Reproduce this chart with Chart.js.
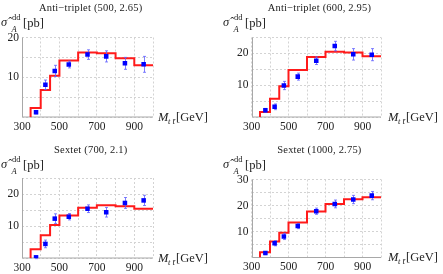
<!DOCTYPE html>
<html>
<head>
<meta charset="utf-8">
<script src="https://cdn.jsdelivr.net/npm/chart.js@4.4.1/dist/chart.umd.min.js"></script>
<style>
  html, body { margin:0; padding:0; background:#fff; }
  body { width:443px; height:274px; position:relative; overflow:hidden; font-family:"Liberation Serif","DejaVu Serif",serif; color:#222; }
  .panel { position:absolute; width:221px; height:137px; }
  .panel canvas { position:absolute; left:0; top:0; }
  .t { position:absolute; white-space:nowrap; line-height:1; }
  .title { font-size:10.5px; letter-spacing:0.2px; }
  .big { font-size:12.5px; }
  .sm { font-size:8.5px; }
</style>
</head>
<body>
<script>
// ---------- data ----------
const binEdges = [346, 400, 450, 500, 600, 700, 800, 900, 1000];
const binCenters = [375, 425, 475, 550, 650, 750, 850, 950];
const xTickLabels = [300, 500, 700, 900];

const titles = ["Anti\u2212triplet (500, 2.65)", "Anti\u2212triplet (600, 2.95)", "Sextet (700, 2.1)", "Sextet (1000, 2.75)"];

const theoryAT500 = [2.25, 6.8, 10.4, 14.2, 16.25, 16.05, 14.75, 13.0];
const dataAT500   = [1.2, 8.1, 11.6, 13.2, 15.7, 15.25, 13.5, 13.25];
const errAT500    = [0.4, 1.2, 1.4, 0.85, 1.2, 1.4, 1.5, 2.0];

const theoryAT600 = [1.6, 5.7, 9.7, 14.8, 18.9, 20.5, 20.3, 19.1];
const dataAT600   = [2.1, 3.2, 9.9, 12.7, 17.7, 22.3, 19.7, 19.6];
const errAT600    = [0.6, 0.9, 1.3, 1.1, 1.2, 1.5, 1.8, 1.9];

const theoryS700 = [2.7, 7.1, 10.3, 13.3, 15.7, 16.5, 16.2, 15.4];
const dataS700   = [0.2, 4.4, 12.3, 12.9, 15.4, 14.3, 17.2, 18.0];
const errS700    = [0.4, 1.2, 1.5, 1.0, 1.2, 1.5, 1.7, 1.6];

const theoryS1000 = [2.05, 6.15, 9.5, 13.5, 17.7, 20.6, 22.4, 23.2];
const dataS1000   = [1.7, 5.5, 8.1, 12.1, 17.8, 20.6, 22.3, 23.8];
const errS1000    = [0.6, 1.0, 1.2, 1.0, 1.2, 1.5, 1.6, 1.6];

const yMaxes = [20, 25, 25, 30];

// ---------- layout ----------
const panels = [
  {left:0,   top:0,   area:{l:22, r:153, t:37.5, b:117}, theory:theoryAT500, data:dataAT500, err:errAT500, ymax:yMaxes[0], title:titles[0], xl:158, xly:111, yly:0},
  {left:222, top:0,   area:{l:29.5, r:159, t:37.5, b:117}, theory:theoryAT600, data:dataAT600, err:errAT600, ymax:yMaxes[1], title:titles[1], xl:166, xly:111, yly:0},
  {left:0,   top:137, area:{l:22, r:153, t:41, b:121}, theory:theoryS700, data:dataS700, err:errS700, ymax:yMaxes[2], title:titles[2], xl:158, xly:115, yly:5},
  {left:222, top:137, area:{l:29.5, r:159, t:42.5, b:120.5}, theory:theoryS1000, data:dataS1000, err:errS1000, ymax:yMaxes[3], title:titles[3], xl:166, xly:114, yly:5}
];

const axisPlugin = {
  id: 'solidAxes',
  beforeDatasetsDraw(chart) {
    const {ctx, chartArea: a} = chart;
    ctx.save();
    ctx.strokeStyle = '#a8a8a8';
    ctx.lineWidth = 1;
    ctx.setLineDash([]);
    ctx.beginPath();
    ctx.moveTo(Math.round(a.left) + 0.5, a.top);
    ctx.lineTo(Math.round(a.left) + 0.5, a.bottom);
    ctx.lineTo(a.right, a.bottom);
    ctx.stroke();
    ctx.restore();
  }
};

const errPlugin = {
  id: 'errbars',
  afterDatasetDraw(chart, args) {
    if (args.index !== 1) return;
    const ds = chart.data.datasets[0];
    const xs = chart.scales.x, ys = chart.scales.y;
    const ctx = chart.ctx;
    ctx.save();
    ctx.strokeStyle = 'rgba(95,95,255,0.8)';
    ctx.lineWidth = 1;
    ds.data.forEach(p => {
      const x = Math.round(xs.getPixelForValue(p.x)) + 0.5;
      const y1 = ys.getPixelForValue(p.y - p.e);
      const y2 = ys.getPixelForValue(p.y + p.e);
      ctx.beginPath();
      ctx.moveTo(x, y1); ctx.lineTo(x, y2);
      ctx.moveTo(x - 1.5, y1); ctx.lineTo(x + 1.5, y1);
      ctx.moveTo(x - 1.5, y2); ctx.lineTo(x + 1.5, y2);
      ctx.stroke();
    });
    ctx.restore();
  }
};

function addText(parent, html, cls, x, y) {
  const d = document.createElement('div');
  d.className = 't ' + cls;
  d.style.left = x + 'px';
  d.style.top = y + 'px';
  d.innerHTML = html;
  parent.appendChild(d);
  return d;
}

panels.forEach((P, k) => {
  const div = document.createElement('div');
  div.className = 'panel';
  div.style.left = P.left + 'px';
  div.style.top = P.top + 'px';
  document.body.appendChild(div);
  const cv = document.createElement('canvas');
  cv.width = 221; cv.height = 137;
  cv.style.width = '221px'; cv.style.height = '137px';
  div.appendChild(cv);

  // step line built from bin edges and theory values
  const step = [{x: binEdges[0], y: 0}];
  P.theory.forEach((v, i) => step.push({x: binEdges[i], y: v}));
  step.push({x: binEdges[binEdges.length - 1], y: P.theory[P.theory.length - 1]});
  const pts = binCenters.map((c, i) => ({x: c, y: P.data[i], e: P.err[i]}));

  const A = P.area;
  new Chart(cv.getContext('2d'), {
    type: 'scatter',
    data: {
      datasets: [
        {type: 'scatter', data: pts, pointStyle: 'rect', pointRadius: 3.2, backgroundColor: '#0000ff', borderColor: '#0000ff', borderWidth: 0},
        {type: 'line', data: step, stepped: 'before', borderColor: '#ff1a1a', borderWidth: 2, pointRadius: 0, fill: false, tension: 0}
      ]
    },
    options: {
      responsive: false,
      animation: false,
      events: [],
      layout: {padding: {left: 0, top: A.t, right: 221 - A.r, bottom: 0}},
      plugins: {legend: {display: false}, tooltip: {enabled: false}, title: {display: false}},
      scales: {
        x: {
          type: 'linear', min: 300, max: 1000,
          afterFit: s => { s.height = 137 - A.b; },
          border: {display: false, dash: [2, 2]},
          grid: {color: '#d3d3d3', lineWidth: 1, drawTicks: false},
          ticks: {
            stepSize: 100, autoSkip: false, maxRotation: 0, padding: 3,
            color: '#222', font: {family: '"Liberation Serif", serif', size: 11.5},
            callback: v => xTickLabels.includes(v) ? String(v) : ''
          }
        },
        y: {
          type: 'linear', min: 0, max: P.ymax,
          afterFit: s => { s.width = A.l; },
          border: {display: false, dash: [2, 2]},
          grid: {color: '#d3d3d3', lineWidth: 1, drawTicks: false},
          ticks: {
            stepSize: 5, autoSkip: false, padding: 3,
            color: '#222', font: {family: '"Liberation Serif", serif', size: 11.5},
            callback: v => (v % 10 === 0 && v !== 0) ? String(v) : ''
          }
        }
      }
    },
    plugins: [axisPlugin, errPlugin]
  });

  // title
  const tt = addText(div, P.title, 'title', 0, 3 + P.yly);
  tt.style.left = ((A.l + A.r) / 2 + 3 - tt.offsetWidth / 2) + 'px';

  // y-axis label  sigma-hat ^dd _A [pb]
  const yl = P.yly;
  addText(div, '<i>\u03c3\u0302</i>', 'big', 1, 16 + yl);
  addText(div, 'dd', 'sm', 12, 13 + yl);
  addText(div, '<i>A</i>', 'sm', 11.5, 25 + yl);
  addText(div, '[pb]', 'big', 23, 16.5 + yl);

  // x-axis label  M_{t tbar} [GeV]
  addText(div, '<i>M</i>', 'big', P.xl, P.xly);
  addText(div, '<i>t</i>&nbsp;<i>t\u0304</i>', 'sm', P.xl + 10, P.xly + 6);
  addText(div, '[GeV]', 'big', P.xl + 18, P.xly);
});
</script>
</body>
</html>
